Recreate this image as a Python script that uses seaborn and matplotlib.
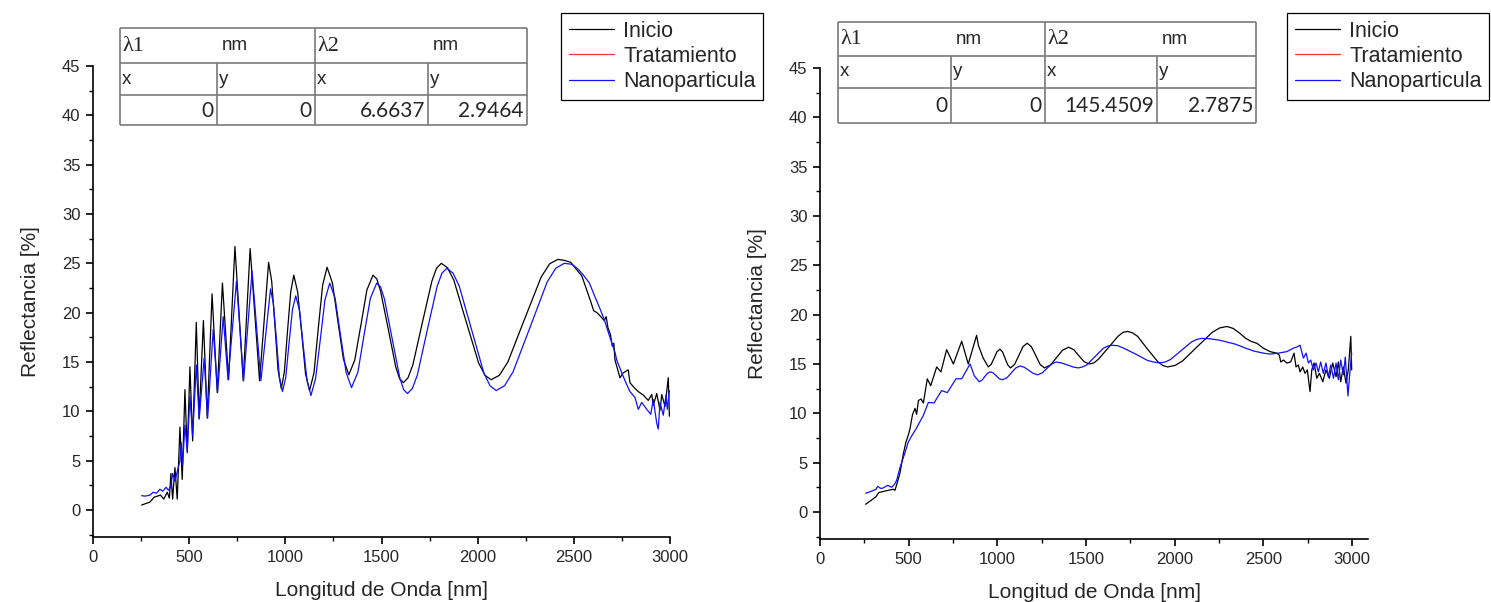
import numpy as np
import pandas as pd
import seaborn as sns
import matplotlib.pyplot as plt
from matplotlib.ticker import MultipleLocator
from matplotlib.lines import Line2D

# ---------------- data ----------------
# left panel, "Inicio" (black)
a_ini_wl = [253, 296, 318, 351, 368, 386, 397, 405, 414, 426, 438, 452, 464, 478, 490, 504, 518, 537,
            552, 574, 594, 619, 646, 673, 705, 738, 781, 817, 866, 913, 929, 946, 962, 979, 995, 1011,
            1028, 1044, 1064, 1085, 1105, 1126, 1149, 1171, 1194, 1217, 1245, 1273, 1302, 1330, 1361,
            1393, 1424, 1456, 1476, 1495, 1535, 1574, 1594, 1614, 1638, 1663, 1712, 1762, 1786, 1811,
            1843, 1876, 1940, 2005, 2038, 2070, 2113, 2157, 2243, 2330, 2374, 2417, 2450, 2484, 2542,
            2590, 2603, 2620, 2640, 2658, 2668, 2677, 2690, 2700, 2708, 2714, 2740, 2757, 2783, 2792,
            2809, 2835, 2861, 2887, 2905, 2913, 2931, 2948, 2957, 2974, 2991, 2997]
a_ini_r = [0.5, 0.8, 1.3, 1.5, 1.1, 1.8, 1.2, 3.7, 1.1, 4.3, 1.1, 8.4, 3.1, 12.2, 5.8, 14.5, 7.0, 19.0,
           9.3, 19.2, 9.3, 21.9, 11.9, 23.0, 13.2, 26.7, 13.1, 26.5, 13.1, 25.1, 23.2, 18.7, 14.2, 12.3,
           14.0, 18.05, 22.1, 23.8, 22.1, 17.95, 13.8, 12.1, 13.9, 18.35, 22.8, 24.6, 23.0, 19.15, 15.3,
           13.7, 15.2, 18.75, 22.3, 23.8, 23.4, 22.2, 18.35, 14.5, 13.3, 12.9, 13.4, 14.7, 18.95, 23.2,
           24.5, 25.0, 24.55, 23.3, 19.1, 14.9, 13.65, 13.2, 13.65, 15.0, 19.3, 23.6, 24.95, 25.4, 25.3,
           25.1, 23.7, 21.0, 20.2, 20.0, 19.6, 19.2, 19.6, 18.5, 17.8, 16.6, 16.9, 15.2, 13.4, 13.9,
           14.2, 12.9, 12.5, 12.0, 11.65, 11.1, 11.7, 10.6, 11.8, 10.1, 11.7, 10.5, 13.4, 9.5]
# left panel, "Nanoparticula" (blue)
a_nan_wl = [253, 270, 296, 313, 330, 348, 362, 380, 392, 405, 414, 426, 438, 452, 459, 466, 478, 490,
            504, 518, 537, 552, 578, 596, 625, 648, 677, 702, 746, 783, 827, 873, 923, 938, 954, 969,
            985, 1002, 1019, 1037, 1054, 1074, 1093, 1113, 1133, 1157, 1182, 1206, 1231, 1259, 1287,
            1316, 1344, 1377, 1409, 1442, 1475, 1495, 1515, 1555, 1595, 1615, 1635, 1660, 1686, 1737,
            1789, 1814, 1840, 1872, 1904, 1968, 2032, 2064, 2096, 2140, 2184, 2273, 2361, 2406, 2450,
            2490, 2523, 2550, 2581, 2610, 2638, 2660, 2686, 2700, 2715, 2723, 2749, 2775, 2792, 2818,
            2835, 2853, 2879, 2900, 2913, 2931, 2939, 2948, 2965, 2979, 2986, 2997]
a_nan_r = [1.45, 1.4, 1.5, 1.8, 1.7, 2.1, 1.9, 2.3, 2.0, 2.4, 3.7, 2.9, 3.9, 5.0, 6.8, 4.6, 8.6, 6.0,
           11.5, 7.5, 14.7, 9.2, 15.4, 9.3, 18.3, 11.9, 19.6, 13.2, 23.2, 13.1, 24.2, 13.1, 22.4, 20.9,
           17.2, 13.5, 12.0, 13.4, 16.85, 20.3, 21.7, 20.2, 16.65, 13.1, 11.6, 13.3, 17.3, 21.3, 23.0,
           21.45, 17.7, 13.95, 12.4, 13.95, 17.7, 21.45, 23.0, 22.6, 21.4, 17.4, 13.4, 12.2, 11.8, 12.3,
           13.65, 18.15, 22.65, 24.0, 24.5, 24.0, 22.7, 18.3, 13.9, 12.6, 12.1, 12.6, 14.0, 18.55, 23.1,
           24.5, 25.0, 24.9, 24.4, 23.8, 23.0, 21.6, 20.3, 19.2, 17.6, 16.8, 15.9, 15.2, 13.9, 12.7,
           12.0, 11.4, 10.2, 10.9, 10.2, 9.7, 11.2, 8.8, 8.2, 10.9, 9.6, 11.6, 10.2, 12.1]

# right panel, "Inicio" (black)
b_ini_wl = [257, 290, 316, 331, 362, 385, 414, 423, 436, 451, 470, 485, 498, 507, 522, 536, 545, 555,
            570, 583, 605, 624, 658, 682, 714, 752, 799, 836, 883, 893, 920, 949, 965, 982, 998, 1015,
            1030, 1044, 1059, 1074, 1097, 1121, 1144, 1168, 1192, 1217, 1241, 1266, 1300, 1334, 1368,
            1402, 1431, 1459, 1488, 1517, 1544, 1571, 1626, 1680, 1708, 1735, 1763, 1791, 1847, 1904,
            1932, 1960, 2002, 2044, 2127, 2211, 2253, 2295, 2330, 2368, 2400, 2430, 2463, 2500, 2538,
            2575, 2590, 2598, 2613, 2632, 2654, 2673, 2684, 2697, 2707, 2722, 2735, 2748, 2763, 2773,
            2786, 2801, 2816, 2835, 2853, 2872, 2891, 2910, 2923, 2936, 2951, 2966, 2979, 2993, 2998]
b_ini_r = [0.78, 1.2, 1.55, 1.96, 2.1, 2.2, 2.3, 2.2, 3.0, 3.95, 5.9, 7.1, 7.8, 8.4, 9.9, 10.5, 9.9, 11.3,
           11.45, 11.05, 13.5, 12.8, 14.7, 14.2, 16.45, 15.0, 17.3, 15.0, 17.9, 16.9, 15.6, 14.7, 14.96,
           15.6, 16.24, 16.5, 16.2, 15.55, 14.9, 14.6, 14.95, 15.85, 16.75, 17.1, 16.75, 15.85, 14.95,
           14.6, 14.9, 15.65, 16.4, 16.7, 16.45, 15.85, 15.25, 15.0, 15.1, 15.5, 16.65, 17.8, 18.2, 18.3,
           18.15, 17.8, 16.5, 15.25, 14.85, 14.7, 14.85, 15.3, 16.75, 18.2, 18.65, 18.8, 18.6, 18.1,
           17.6, 17.3, 17.1, 16.6, 16.25, 16.1, 15.9, 15.2, 15.4, 15.1, 15.2, 16.1, 14.7, 14.9, 14.2,
           14.7, 14.05, 14.4, 12.2, 14.4, 15.1, 13.55, 14.05, 13.2, 14.4, 13.55, 15.1, 13.7, 15.2, 13.2,
           14.7, 13.05, 14.4, 17.8, 14.4]
# right panel, "Nanoparticula" (blue)
b_nan_wl = [257, 290, 316, 325, 341, 352, 372, 382, 404, 420, 432, 451, 479, 498, 520, 541, 562, 583,
            611, 643, 686, 718, 767, 799, 846, 870, 898, 913, 928, 944, 959, 976, 994, 1011, 1029, 1054,
            1079, 1104, 1129, 1153, 1178, 1202, 1227, 1253, 1280, 1306, 1332, 1363, 1395, 1426, 1457,
            1480, 1504, 1551, 1598, 1621, 1645, 1679, 1713, 1780, 1848, 1882, 1916, 1946, 1976, 2036,
            2096, 2126, 2156, 2200, 2256, 2300, 2344, 2400, 2448, 2500, 2538, 2584, 2632, 2669, 2692,
            2707, 2716, 2726, 2741, 2754, 2767, 2782, 2797, 2810, 2823, 2838, 2853, 2866, 2880, 2895,
            2910, 2923, 2936, 2951, 2962, 2977, 2989, 2998]
b_nan_r = [1.9, 2.1, 2.3, 2.6, 2.4, 2.4, 2.6, 2.7, 2.5, 2.8, 3.2, 4.5, 6.0, 7.1, 7.8, 8.4, 9.1, 9.8,
           11.1, 11.05, 12.3, 12.1, 13.5, 13.5, 15.0, 13.8, 13.2, 13.35, 13.7, 14.05, 14.2, 14.1, 13.8,
           13.5, 13.4, 13.6, 14.1, 14.6, 14.8, 14.65, 14.35, 14.05, 13.9, 14.1, 14.55, 15.0, 15.2, 15.1,
           14.9, 14.7, 14.6, 14.7, 14.9, 15.75, 16.6, 16.8, 16.9, 16.85, 16.6, 16.0, 15.35, 15.2, 15.1,
           15.2, 15.45, 16.35, 17.25, 17.5, 17.6, 17.55, 17.4, 17.2, 17.0, 16.6, 16.3, 16.1, 16.0, 16.1,
           16.25, 16.6, 16.75, 16.9, 16.25, 15.6, 16.1, 15.1, 15.4, 14.4, 15.1, 14.2, 15.2, 14.05, 15.1,
           13.7, 14.9, 13.55, 15.1, 13.4, 15.4, 13.9, 15.7, 11.75, 14.4, 16.1]

series_names = ["Inicio", "Tratamiento", "Nanoparticula"]
series_colors = ["black", "#ff3030", "#1010ff"]

table_head = ["\u03bb1", "nm", "\u03bb2", "nm"]
table_sub = ["x", "y", "x", "y"]
table_a = ["0", "0", "6.6637", "2.9464"]
table_b = ["0", "0", "145.4509", "2.7875"]

# ---------------- drawing ----------------
sns.set_style("ticks")
plt.rcParams['font.family'] = ['Liberation Sans', 'DejaVu Sans']

W, H = 1491, 602
fig = plt.figure(figsize=(W / 100, H / 100), dpi=100)


def box(x0, y0, x1, y1):
    # pixel box (top-left origin) -> figure fraction rect
    return [x0 / W, 1 - y1 / H, (x1 - x0) / W, (y1 - y0) / H]


def panel(rect, xmax, ini_wl, ini_r, nan_wl, nan_r, leg_xy):
    ax = fig.add_axes(rect)
    df = pd.concat([
        pd.DataFrame({"wl": ini_wl, "r": ini_r, "serie": "Inicio"}),
        pd.DataFrame({"wl": nan_wl, "r": nan_r, "serie": "Nanoparticula"}),
    ])
    sns.lineplot(data=df, x="wl", y="r", hue="serie", hue_order=["Inicio", "Nanoparticula"],
                 palette={"Inicio": series_colors[0], "Nanoparticula": series_colors[2]},
                 estimator=None, sort=False, lw=0.9, legend=False, ax=ax)
    ax.set_xlim(0, xmax)
    ax.set_ylim(-2.74, 45)
    ax.xaxis.set_major_locator(MultipleLocator(500))
    ax.xaxis.set_minor_locator(MultipleLocator(250))
    ax.yaxis.set_major_locator(MultipleLocator(5))
    ax.yaxis.set_minor_locator(MultipleLocator(2.5))
    sns.despine(ax=ax)
    for s in ["left", "bottom"]:
        ax.spines[s].set_linewidth(1.2)
        ax.spines[s].set_color("black")
    ax.tick_params(which="major", direction="out", length=5, width=1.2, labelsize=12, pad=4, color="black")
    ax.tick_params(which="minor", direction="out", length=3, width=1.0, color="black")
    ax.set_xlabel("Longitud de Onda [nm]", fontsize=15, labelpad=12)
    ax.set_ylabel("Reflectancia [%]", fontsize=15, labelpad=16)

    handles = [Line2D([], [], color=c, lw=0.9) for c in series_colors]
    leg = ax.legend(handles, series_names, loc="upper left",
                    bbox_to_anchor=(leg_xy[0] / W, 1 - leg_xy[1] / H), bbox_transform=fig.transFigure,
                    fontsize=15.5, frameon=True, fancybox=False, edgecolor="black", framealpha=1,
                    handlelength=2.1, handletextpad=0.45, labelspacing=0.2, borderpad=0.35,
                    borderaxespad=0)
    leg.get_frame().set_linewidth(0.9)
    return ax


def table(cols, rows, vals):
    c0, c1, c2, c3, c4 = cols
    r0, r1, r2, r3 = rows
    tax = fig.add_axes(box(c0, r0, c4, r3))
    tax.set_xlim(c0, c4)
    tax.set_ylim(r3, r0)
    tax.axis("off")
    lc = dict(color="#7a7a7a", lw=1.2, clip_on=False, solid_capstyle="butt")
    for r in rows:
        tax.plot([c0, c4], [r, r], **lc)
    for c in [c0, c2, c4]:
        tax.plot([c, c], [r0, r3], **lc)
    for c in [c1, c3]:
        tax.plot([c, c], [r1, r3], **lc)
    ym = [(r0 + r1) / 2, (r1 + r2) / 2, (r2 + r3) / 2]
    tax.text(c0 + 2, ym[0] + 1, table_head[0], fontsize=16, va="center", ha="left", family="Liberation Serif")
    tax.text(c1 + 5, ym[0], table_head[1], fontsize=13.5, va="center", ha="left")
    tax.text(c2 + 2, ym[0] + 1, table_head[2], fontsize=16, va="center", ha="left", family="Liberation Serif")
    tax.text(c3 + 5, ym[0], table_head[3], fontsize=13.5, va="center", ha="left")
    for c, t in zip([c0, c1, c2, c3], table_sub):
        tax.text(c + 2, ym[1], t, fontsize=13.5, va="center", ha="left")
    for c, t in zip([c1, c2, c3, c4], vals):
        tax.text(c - 3, ym[2] + 1, t, fontsize=15, va="center", ha="right", family="Lato")


panel(box(93, 66, 670, 537), 3000, a_ini_wl, a_ini_r, a_nan_wl, a_nan_r, (561, 13))
panel(box(820, 68, 1368, 539), 3090, b_ini_wl, b_ini_r, b_nan_wl, b_nan_r, (1287, 13))
table([120, 217, 315, 428, 527], [28, 63, 95, 125], table_a)
table([838, 951, 1045, 1157, 1256], [22, 56, 88, 123], table_b)

fig.savefig("out.png", dpi=100, facecolor="white")
